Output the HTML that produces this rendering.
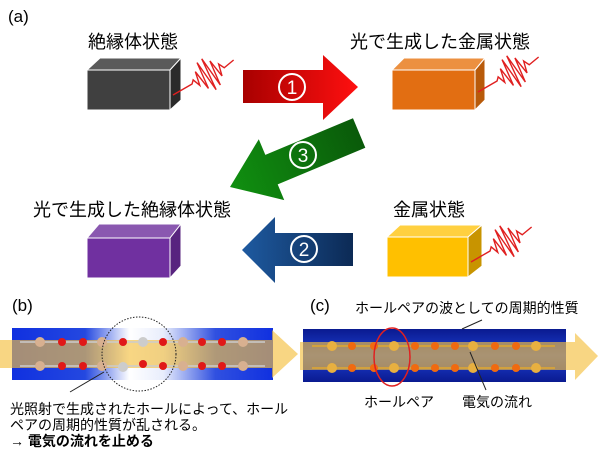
<!DOCTYPE html>
<html><head><meta charset="utf-8"><style>
body{margin:0;background:#fff;}
svg{display:block;}
text{font-family:"Liberation Sans","Noto Sans CJK JP",sans-serif;}
</style></head><body>
<svg width="600" height="460" viewBox="0 0 600 460" xmlns="http://www.w3.org/2000/svg">
<defs>
<linearGradient id="gr" x1="0" x2="1"><stop offset="0" stop-color="#a80000"/><stop offset="1" stop-color="#ff1010"/></linearGradient>
<linearGradient id="gg" x1="1" x2="0"><stop offset="0" stop-color="#0a5a0a"/><stop offset="1" stop-color="#109010"/></linearGradient>
<linearGradient id="gb" x1="1" x2="0"><stop offset="0" stop-color="#0c2a55"/><stop offset="1" stop-color="#1e5aa0"/></linearGradient>
<linearGradient id="gbb" x1="0" x2="1">
<stop offset="0" stop-color="#1030e0"/><stop offset="0.28" stop-color="#2448e0"/><stop offset="0.45" stop-color="#ffffff"/><stop offset="0.58" stop-color="#e8edfc"/><stop offset="0.78" stop-color="#3050e0"/><stop offset="1" stop-color="#1030e0"/></linearGradient>
<linearGradient id="gc" x1="0" x2="0" y1="0" y2="1"><stop offset="0" stop-color="#0a1a90"/><stop offset="0.5" stop-color="#1e40d0"/><stop offset="1" stop-color="#0a1a90"/></linearGradient>
<g id="wave"><path fill="none" stroke="#e02020" stroke-width="1.4" d="M0,0 L22,0 L25,-3 L28,5 L31,-9 L34,12 L37,-16 L40,17 L43,-17 L46,15 L49,-11 L52,8 L55,-4 L58,2 L70,0"/></g>
</defs>
<text x="8" y="22" font-size="17">(a)</text>

<text x="88" y="48" font-size="18">絶縁体状態</text>
<text x="350" y="48" font-size="18">光で生成した金属状態</text>
<text x="33" y="216" font-size="18">光で生成した絶縁体状態</text>
<text x="393" y="216" font-size="18">金属状態</text>

<g stroke="#fff" stroke-width="1">
<polygon points="87,70 100,58 181,58 170,70" fill="#5a5a5a"/>
<rect x="87" y="70" width="83" height="40" fill="#404040"/>
<polygon points="170,70 181,58 181,100 170,110" fill="#2a2a2a"/>

<polygon points="392,70 404,58 485,58 475,70" fill="#ec9040"/>
<rect x="392" y="70" width="83" height="40" fill="#e26e12"/>
<polygon points="475,70 485,58 485,100 475,110" fill="#b85a0a"/>

<polygon points="87,238 99,224 181,224 170,238" fill="#8a58b0"/>
<rect x="87" y="238" width="83" height="40" fill="#7030a0"/>
<polygon points="170,238 181,224 181,266 170,278" fill="#58247f"/>

<polygon points="387,237 400,225 482,225 468,237" fill="#ffd040"/>
<rect x="387" y="237" width="81" height="40" fill="#ffc000"/>
<polygon points="468,237 482,225 482,266 468,277" fill="#c89400"/>
</g>

<use href="#wave" transform="translate(173,95) rotate(-30)"/>
<use href="#wave" transform="translate(478,92) rotate(-30)"/>
<use href="#wave" transform="translate(471,262) rotate(-30)"/>

<polygon points="243,70 323,70 323,55 358,87 323,120 323,103 243,103" fill="url(#gr)"/>
<circle cx="292" cy="87" r="13" fill="none" stroke="#fff" stroke-width="2"/>
<text x="292" y="94" font-size="19" fill="#fff" text-anchor="middle">1</text>

<g transform="translate(230,187) rotate(-22.7)">
<polygon points="0,0 45,-33 45,-16 140,-16 140,16 45,16 45,33" fill="url(#gg)"/>
</g>
<circle cx="303" cy="155" r="13" fill="none" stroke="#fff" stroke-width="2"/>
<text x="303" y="162" font-size="19" fill="#fff" text-anchor="middle">3</text>

<polygon points="242,250 275,217 275,233 353,233 353,266 275,266 275,283" fill="url(#gb)"/>
<circle cx="304" cy="249" r="13" fill="none" stroke="#fff" stroke-width="2"/>
<text x="304" y="256" font-size="19" fill="#fff" text-anchor="middle">2</text>

<!-- (b) -->
<text x="12" y="311" font-size="17">(b)</text>
<rect x="12" y="328" width="261" height="52" fill="url(#gbb)"/>
<polygon points="0,340 272,340 272,330 298,354 272,378 272,368 0,368" fill="#f5c040" opacity="0.65"/>
<g stroke="#ccc" stroke-width="1.5"><line x1="20" y1="342" x2="265" y2="342"/><line x1="20" y1="366" x2="265" y2="366"/></g>
<g fill="#e01818">
<circle cx="62" cy="342" r="4"/><circle cx="62" cy="366" r="4"/><circle cx="83" cy="342" r="4"/><circle cx="83" cy="366" r="4"/>
<circle cx="123" cy="342" r="4"/><circle cx="143" cy="364" r="4"/><circle cx="163" cy="342" r="4"/><circle cx="163" cy="366" r="4"/>
<circle cx="202" cy="342" r="4"/><circle cx="202" cy="366" r="4"/><circle cx="222" cy="342" r="4"/><circle cx="222" cy="366" r="4"/>
</g>
<g fill="#d8b090"><circle cx="40" cy="342" r="5"/><circle cx="40" cy="366" r="5"/><circle cx="102" cy="342" r="5"/><circle cx="102" cy="366" r="5"/><circle cx="183" cy="342" r="5"/><circle cx="183" cy="366" r="5"/><circle cx="243" cy="342" r="5"/><circle cx="243" cy="366" r="5"/></g>
<g fill="#ccc"><circle cx="143" cy="342" r="5"/><circle cx="123" cy="367" r="5"/></g>
<circle cx="139" cy="354" r="37" fill="none" stroke="#222" stroke-width="1" stroke-dasharray="1.5,1.5"/>
<line x1="70" y1="392" x2="104" y2="372" stroke="#222" stroke-width="1"/>
<text x="10" y="414" font-size="14">光照射で生成されたホールによって、ホール</text>
<text x="10" y="430" font-size="14">ペアの周期的性質が乱される。</text>
<text x="10" y="446" font-size="14" font-weight="bold">→  電気の流れを止める</text>

<!-- (c) -->
<text x="310" y="311" font-size="17">(c)</text>
<text x="355" y="313" font-size="14">ホールペアの波としての周期的性質</text>
<rect x="303" y="329" width="263" height="53" fill="url(#gc)"/>
<polygon points="300,342 575,342 575,333 598,356 575,380 575,370 300,370" fill="#f5c040" opacity="0.65"/>
<g stroke="#e0a830" stroke-width="1.5"><line x1="312" y1="346" x2="555" y2="346"/><line x1="312" y1="368" x2="555" y2="368"/></g>
<g fill="#f06a10">
<circle cx="352" cy="346" r="4"/><circle cx="352" cy="368" r="4"/><circle cx="374" cy="346" r="4"/><circle cx="374" cy="368" r="4"/>
<circle cx="415" cy="346" r="4"/><circle cx="415" cy="368" r="4"/><circle cx="435" cy="346" r="4"/><circle cx="435" cy="368" r="4"/>
<circle cx="455" cy="346" r="4"/><circle cx="455" cy="368" r="4"/><circle cx="495" cy="346" r="4"/><circle cx="495" cy="368" r="4"/>
<circle cx="516" cy="346" r="4"/><circle cx="516" cy="368" r="4"/>
</g>
<g fill="#e8b040"><circle cx="332" cy="346" r="5"/><circle cx="332" cy="368" r="5"/><circle cx="394" cy="346" r="5"/><circle cx="394" cy="368" r="5"/><circle cx="473" cy="346" r="5"/><circle cx="473" cy="368" r="5"/><circle cx="536" cy="346" r="5"/><circle cx="536" cy="368" r="5"/></g>
<ellipse cx="392" cy="357" rx="18" ry="29" fill="none" stroke="#e02020" stroke-width="1.5"/>
<line x1="462" y1="329" x2="482" y2="320" stroke="#222" stroke-width="1"/>
<line x1="470" y1="352" x2="486" y2="390" stroke="#222" stroke-width="1"/>
<text x="364" y="407" font-size="14">ホールペア</text>
<text x="462" y="407" font-size="14">電気の流れ</text>
</svg>
</body></html>
